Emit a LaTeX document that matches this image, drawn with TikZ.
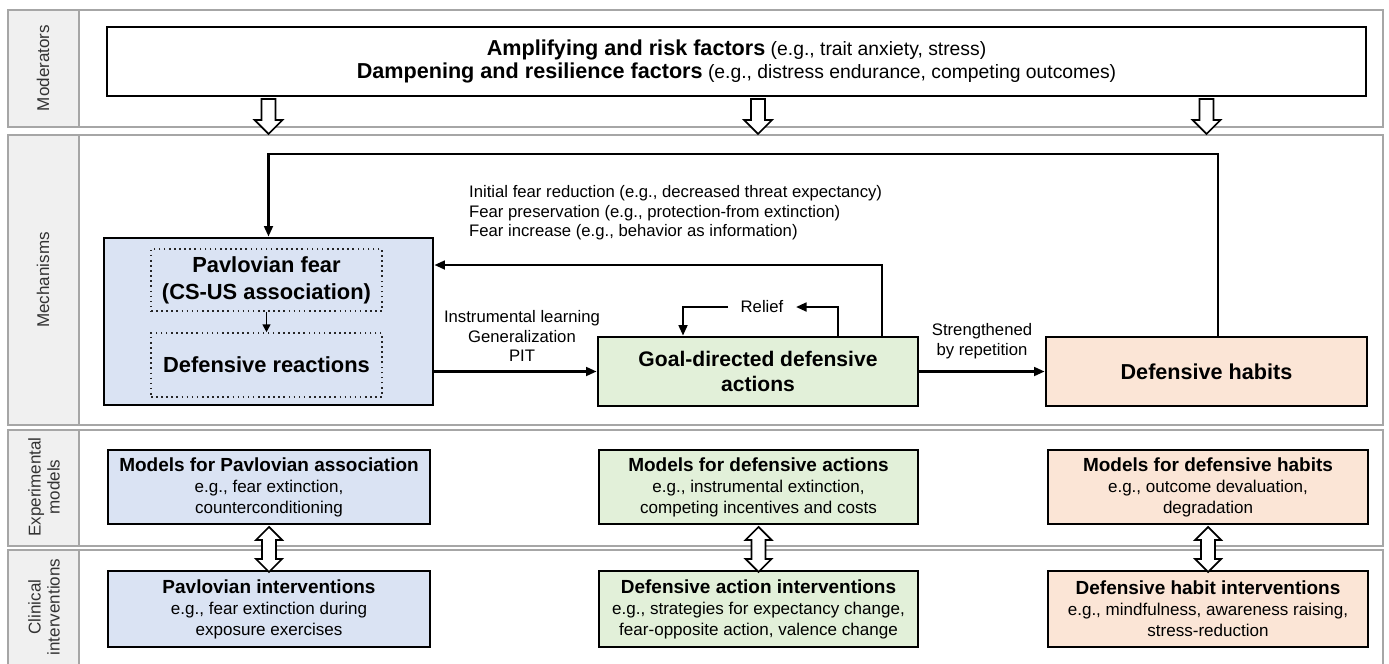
\documentclass[tikz,border=0pt]{standalone}
\usepackage{fontspec}
\setmainfont{Liberation Sans}
\usetikzlibrary{arrows.meta,fit,calc}
\definecolor{pblue}{HTML}{DAE3F3}
\definecolor{pgreen}{HTML}{E2F0D9}
\definecolor{ppeach}{HTML}{FBE5D6}
\definecolor{labfill}{HTML}{F0F0F0}
\definecolor{pline}{HTML}{A6A6A6}
\newcommand{\ttl}[1]{{\fontsize{10.8}{12}\selectfont\bfseries #1}}
\newcommand{\rowfont}{\fontsize{9.7}{12}\selectfont}
\begin{document}
\begin{tikzpicture}[x=0.02cm,y=-0.02cm,
  box/.style={draw, line width=1.6pt, inner sep=0pt},
  dbox/.style={draw=black!85, dotted, line width=0.9pt, inner sep=0pt},
  txt/.style={align=center, inner sep=1pt},
  arr/.style={line width=1.3pt, -{Triangle[length=6pt,width=5pt]}},
  blk/.style={draw, line width=1pt, fill=white, line join=miter},
  panel/.style={draw=pline, line width=1.2pt},
  plabel/.style={rotate=90, align=center, text=black!80, font=\fontsize{9.7}{10.8}\selectfont},
  small/.style={font=\fontsize{9.5}{11.3}\selectfont},
  rowtext/.style={txt, font=\rowfont}
]
\useasboundingbox (0,0) rectangle (1389,663);
% panels
\foreach \ya/\yb in {10/127, 135/425, 430/546, 550/675} {
  \fill[labfill] (8,\ya) rectangle (79,\yb);
  \draw[panel] (8,\ya) rectangle (1383,\yb);
  \draw[panel] (79,\ya) -- (79,\yb);
}
\node[plabel] (lmod) at (43,68) {Moderators};
\node[plabel] (lmech) at (43,280) {Mechanisms};
\node[plabel] (lexp) at (44,487) {Experimental\\models};
\node[plabel] (lclin) at (44,607) {Clinical\\interventions};

% moderators
\node[box, fill=white, fit={(107,27)(1366,96)}] (amp) {};
\node[txt, font=\fontsize{11}{12.9}\selectfont] (ampt) at (amp.center)
  {{\fontsize{12.3}{12.9}\selectfont\bfseries Amplifying and risk factors} (e.g., trait anxiety, stress)\\
   {\fontsize{12.3}{12.9}\selectfont\bfseries Dampening and resilience factors} (e.g., distress endurance, competing outcomes)};

% mechanisms
\node[box, fill=pblue, fit={(104,238)(433,405)}] (pav) {};
\node[dbox, fit={(151,249)(382,311)}] (pf) {};
\node[txt, font=\fontsize{12.45}{15.3}\selectfont\bfseries] (pft) at (pf.center) {Pavlovian fear\\(CS-US association)};
\node[dbox, fit={(151,333)(382,397)}] (dr) {};
\node[txt, font=\fontsize{12.45}{15.3}\selectfont\bfseries] (drt) at (dr.center) {Defensive reactions};
\draw[line width=1pt, -{Triangle[length=4.5pt,width=4.5pt]}] (pf) -- (dr);

\node[box, fill=pgreen, fit={(598,337)(918,406)}] (goal) {};
\node[txt, font=\fontsize{12}{14.7}\selectfont\bfseries] (goalt) at (goal.center) {Goal-directed defensive\\actions};
\node[box, fill=ppeach, fit={(1046,337)(1367,406)}] (hab) {};
\node[txt, font=\fontsize{12.3}{14}\selectfont\bfseries] (habt) at (hab.center) {Defensive habits};

\draw[arr] (pav.east |- goal.west) -- (goal.west);
\draw[arr] (goal.east) -- (hab.west);
\node[small, align=center] (il) at (522,336) {Instrumental learning\\Generalization\\PIT};
\node[small, align=center] (sr) at (982,341) {Strengthened\\by repetition};

\node[small, inner sep=7pt] (relief) at (762,307) {Relief};
\coordinate (r1) at (838,307);
\coordinate (r2) at (683,307);
\draw[arr] (r1 |- goal.north) -- (r1) -- (relief.east);
\draw[arr] (relief.west) -- (r2) -- (r2 |- goal.north);

\coordinate (g2p) at (882,265);
\draw[arr] (g2p |- goal.north) -- (g2p) -- (g2p -| pav.east);

\coordinate (t1) at (1218,154);
\draw[arr] (t1 |- hab.north) -- (t1) -- (pav.north |- t1) -- (pav.north);

\node[anchor=west, align=left, font=\fontsize{9.5}{11.2}\selectfont] (mt) at (463,213)
  {Initial fear reduction (e.g., decreased threat expectancy)\\
   Fear preservation (e.g., protection-from extinction)\\
   Fear increase (e.g., behavior as information)};

% block arrows from moderators
\foreach \n in {pav,goal,hab}
  \draw[blk] ([yshift=-0.9pt]amp.south -| \n.north) ++(-7,0) -- ++(0,21) -- ++(-7,0) -- ++(14,14) -- ++(14,-14) -- ++(-7,0) -- ++(0,-21) -- cycle;

% experimental models
\node[box, fill=pblue, fit={(108,450)(430,524)}] (epav) {};
\node[rowtext] (epavt) at (epav.center)
  {\ttl{Models for Pavlovian association}\\e.g., fear extinction,\\counterconditioning};
\node[box, fill=pgreen, fit={(599,450)(918,524)}] (egoal) {};
\node[rowtext] (egoalt) at (egoal.center)
  {\ttl{Models for defensive actions}\\e.g., instrumental extinction,\\competing incentives and costs};
\node[box, fill=ppeach, fit={(1048,450)(1368,524)}] (ehab) {};
\node[rowtext] (ehabt) at (ehab.center)
  {\ttl{Models for defensive habits}\\e.g., outcome devaluation,\\degradation};

% clinical interventions
\node[box, fill=pblue, fit={(108,571)(430,647)}] (cpav) {};
\node[rowtext] (cpavt) at (cpav.center)
  {\ttl{Pavlovian interventions}\\e.g., fear extinction during\\exposure exercises};
\node[box, fill=pgreen, fit={(599,571)(918,647)}] (cgoal) {};
\node[rowtext] (cgoalt) at (cgoal.center)
  {\ttl{Defensive action interventions}\\e.g., strategies for expectancy change,\\fear-opposite action, valence change};
\node[box, fill=ppeach, fit={(1048,571)(1368,647)}] (chab) {};
\node[rowtext] (chabt) at (chab.center)
  {\ttl{Defensive habit interventions}\\e.g., mindfulness, awareness raising,\\stress-reduction};

% double block arrows
\foreach \n in {pav,goal,hab}
  \draw[blk] ([yshift=-0.9pt]e\n.south) -- ++(13,13) -- ++(-6,0) -- ++(0,19) -- ++(6,0) -- ++(-13,13) -- ++(-13,-13) -- ++(6,0) -- ++(0,-19) -- ++(-6,0) -- cycle;
\end{tikzpicture}
\end{document}
